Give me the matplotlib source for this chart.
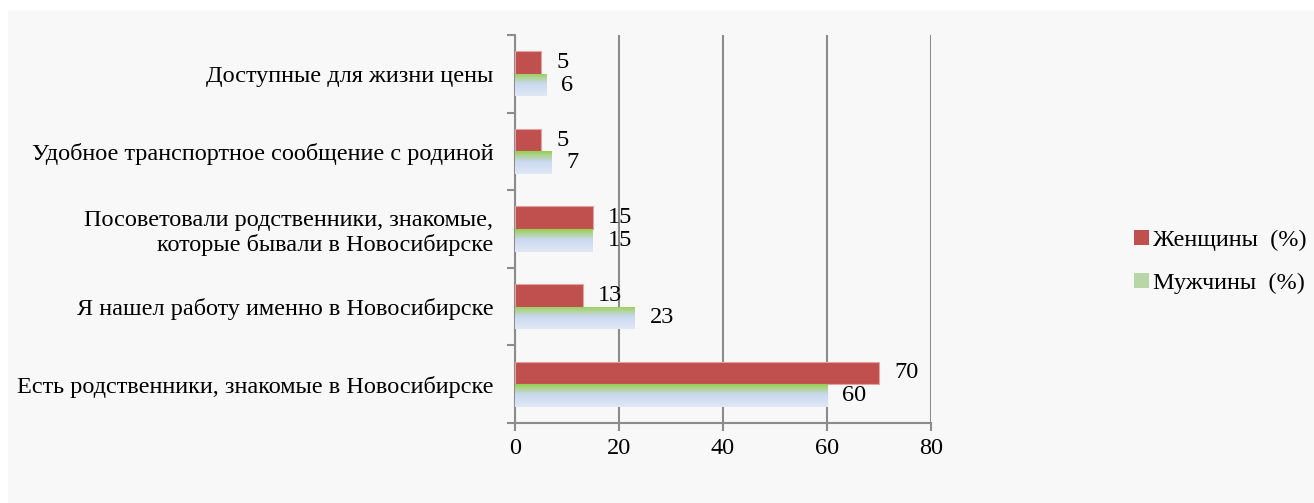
import numpy as np
import matplotlib.pyplot as plt
from matplotlib.colors import LinearSegmentedColormap
from matplotlib.patches import Rectangle

categories = [
    "Есть родственники, знакомые в Новосибирске",
    "Я нашел работу именно в Новосибирске",
    "Посоветовали родственники, знакомые,\nкоторые бывали в Новосибирске",
    "Удобное транспортное сообщение с родиной",
    "Доступные для жизни цены",
]
women = [70, 13, 15, 5, 5]
men = [60, 23, 15, 7, 6]
x_ticks = [0, 20, 40, 60, 80]

plt.rcParams['font.family'] = ['Liberation Serif', 'DejaVu Serif']
fs = 17.5

fig = plt.figure(figsize=(13.14, 5.03), dpi=100)
fig.patches.append(Rectangle((8 / 1314, 0), 1, 1 - 10 / 503, transform=fig.transFigure,
                             facecolor='#f8f8f8', edgecolor='none', zorder=-1))
ax = fig.add_axes([515 / 1314, 80 / 503, 416 / 1314, 388 / 503])
ax.set_facecolor('#f8f8f8')

y = np.arange(len(categories))
h = 0.29
red = '#c0504d'
grad = LinearSegmentedColormap.from_list('g', [(0, '#8fd14f'), (0.12, '#a9d27a'),
                                               (0.45, '#c9d8ee'), (1, '#e0e8f6')])
gimg = np.linspace(0, 1, 64).reshape(-1, 1)

ax.barh(y + h / 2, women, height=h, color=red, edgecolor='#e3a3a1', linewidth=0.8, zorder=3)
bars_m = ax.barh(y - h / 2, men, height=h, color='none', edgecolor='none', zorder=3)
for b in bars_m:
    x0, y0, w, hh = b.get_x(), b.get_y(), b.get_width(), b.get_height()
    im = ax.imshow(gimg, cmap=grad, aspect='auto', extent=(x0, x0 + w, y0, y0 + hh),
                   origin='upper', zorder=3)
    im.set_clip_path(b)

for yi, w_, m_ in zip(y, women, men):
    ax.annotate(str(w_), (w_, yi + h / 2), xytext=(15, 0), textcoords='offset pixels',
                va='center', ha='left', fontsize=fs)
    ax.annotate(str(m_), (m_, yi - h / 2), xytext=(15, 0), textcoords='offset pixels',
                va='center', ha='left', fontsize=fs)

ax.set_xlim(0, 80)
ax.set_ylim(-0.5, 4.5)
ax.set_xticks(x_ticks)
ax.set_yticks(y)
ax.set_yticklabels(categories, fontsize=fs, multialignment='right')
ax.set_yticks(np.arange(-0.5, 5, 1), minor=True)
ax.tick_params(axis='y', which='major', length=0, pad=15.5)
ax.tick_params(axis='y', which='minor', length=6, width=1.5, color='#8c8c8c')
ax.tick_params(axis='x', length=6, width=1.5, color='#8c8c8c', labelsize=fs, pad=5)
ax.grid(axis='x', color='#8c8c8c', linewidth=1.5, zorder=1)
ax.set_axisbelow(True)
for s in ['top', 'right']:
    ax.spines[s].set_visible(False)
for s in ['left', 'bottom']:
    ax.spines[s].set_color('#8c8c8c')
    ax.spines[s].set_linewidth(1.5)

# legend
h_w = Rectangle((0, 0), 1, 1, facecolor=red)
h_m = Rectangle((0, 0), 1, 1, facecolor='#b8d6a8')
fig.legend([h_w, h_m], ["Женщины  (%)", "Мужчины  (%)"], loc='center left',
           bbox_to_anchor=(1134 / 1314, 1 - 262 / 503), frameon=False, fontsize=fs,
           borderaxespad=0, borderpad=0,
           handlelength=0.6, handleheight=0.6, handletextpad=0.2, labelspacing=0.9)

fig.savefig('out.png', dpi=100)
